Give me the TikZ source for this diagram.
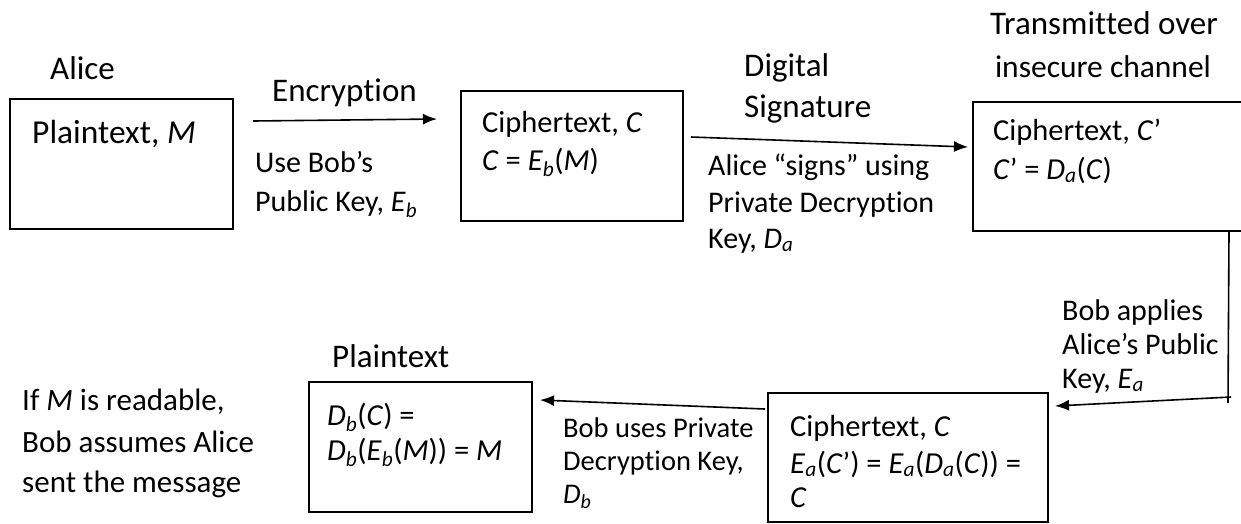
\documentclass[tikz,border=0pt]{standalone}
\usepackage{fontspec}
\setmainfont{Carlito}[Ligatures={NoCommon}]
\usetikzlibrary{arrows.meta}
\newcommand{\Sb}[2]{\textit{#1}\textsubscript{\textit{#2}}}
\newcommand{\nl}{\kern0.01pt{}}
\begin{document}
\begin{tikzpicture}[x=1pt,y=-1pt,
  box/.style={draw, line width=1.6pt, inner sep=0pt},
  ttl/.style={inner sep=0pt, anchor=base west, font=\fontsize{33}{40}\selectfont},
  ttlc/.style={inner sep=0pt, anchor=base, font=\fontsize{33}{40}\selectfont},
  lbl/.style={inner sep=0pt, anchor=base west, font=\fontsize{30}{36}\selectfont},
  lbls/.style={inner sep=0pt, anchor=base west, font=\fontsize{28.5}{34}\selectfont},
  btx/.style={inner sep=0pt, anchor=base west, font=\fontsize{30.5}{36}\selectfont},
  arr/.style={line width=1.6pt, -{Latex[length=14pt,width=11pt]}},
  ln/.style={line width=1.6pt}
]
\clip (0,0) rectangle (1241,523);
\fill[white] (0,0) rectangle (1241,523);

% boxes
\node[box, minimum width=223pt, minimum height=130pt] (b1) at (121.5,164) {};
\node[box, minimum width=222pt, minimum height=130pt] (b2) at (572,156) {};
\node[box, minimum width=277pt, minimum height=129pt] (b3) at (1111.5,166.5) {};
\node[box, minimum width=280pt, minimum height=129pt] (b4) at (908,457.5) {};
\node[box, minimum width=223pt, minimum height=130pt] (b5) at (420.5,447) {};

% top row texts
\node[ttl] (alice) at (50,79) {Alice};
\node[ttl, font=\fontsize{33.5}{40}\selectfont] (t1) at (32,143) {Plaintext, \textit{M}};
\node[ttl] (enc) at (272,101) {Encryption};
\node[lbl] (u1) at (255,172) {Use Bob’s};
\node[lbl] (u2) at (255,211) {Public Key, \Sb{E}{b}};
\node[btx] (c1) at (482,132) {Ciphertext, \textit{C}};
\node[btx] (c2) at (482,170) {\textit{C} = \Sb{E}{b}(\textit{M})};
\node[ttl] (dig) at (744,76) {Digital};
\node[ttl] (sig) at (744,117) {Signature};
\node[lbl] (s1) at (708,175) {Alice “signs” using};
\node[lbl] (s2) at (708,212) {Private Decryp\nl tion};
\node[lbl] (s3) at (708,248) {Key, \Sb{D}{a}};
\node[ttlc] (tr1) at (1104,34) {Transmit\nl ted over};
\node[ttlc, font=\fontsize{31.5}{38}\selectfont] (tr2) at (1103,77) {insecure channel};
\node[btx] (d1) at (993,140) {Ciphertext, \textit{C}’};
\node[btx] (d2) at (993,179) {\textit{C}’ = \Sb{D}{a}(\textit{C})};

% right side label
\node[lbl] (p1) at (1062,320) {Bob applies};
\node[lbl] (p2) at (1062,354) {Alice’s Public};
\node[lbl] (p3) at (1062,388) {Key, \Sb{E}{a}};

% bottom row texts
\node[btx] (e1) at (790,436) {Ciphertext, \textit{C}};
\node[btx] (e2) at (790,473) {\Sb{E}{a}(\textit{C}’) = \Sb{E}{a}(\Sb{D}{a}(\textit{C})) =};
\node[btx] (e3) at (790,507) {\textit{C}};
\node[lbls] (q1) at (563,437) {Bob uses Private};
\node[lbls] (q2) at (563,470) {Decryp\nl tion Key,};
\node[lbls] (q3) at (563,503) {\Sb{D}{b}};
\node[ttl] (pl) at (332,367) {Plaintext};
\node[btx] (f1) at (327,425) {\Sb{D}{b}(\textit{C}) =};
\node[btx] (f2) at (327,460) {\Sb{D}{b}(\Sb{E}{b}(\textit{M})) = \textit{M}};
\node[btx, font=\fontsize{31}{38}\selectfont] (g1) at (22,410) {If \textit{M} is readable,};
\node[btx, font=\fontsize{31}{38}\selectfont] (g2) at (22,452) {Bob assumes Alice};
\node[btx, font=\fontsize{31}{38}\selectfont] (g3) at (22,492) {sent the message};

% connectors
\coordinate (a1s) at (253,121);
\coordinate (a1e) at (437,119);
\draw[arr] (a1s) -- (a1e);
\coordinate (a2s) at (691,137);
\coordinate (a2e) at (968,147);
\draw[arr] (a2s) -- (a2e);
\coordinate (v1) at (1229,231);
\coordinate (v2) at (1228,403);
\draw[ln] (v1) -- (v2);
\coordinate (h1) at (1231,397);
\coordinate (h2) at (1055,406);
\draw[arr] (h1) -- (h2);
\coordinate (a4s) at (765,409);
\coordinate (a4e) at (540,400);
\draw[arr] (a4s) -- (a4e);
\end{tikzpicture}
\end{document}
